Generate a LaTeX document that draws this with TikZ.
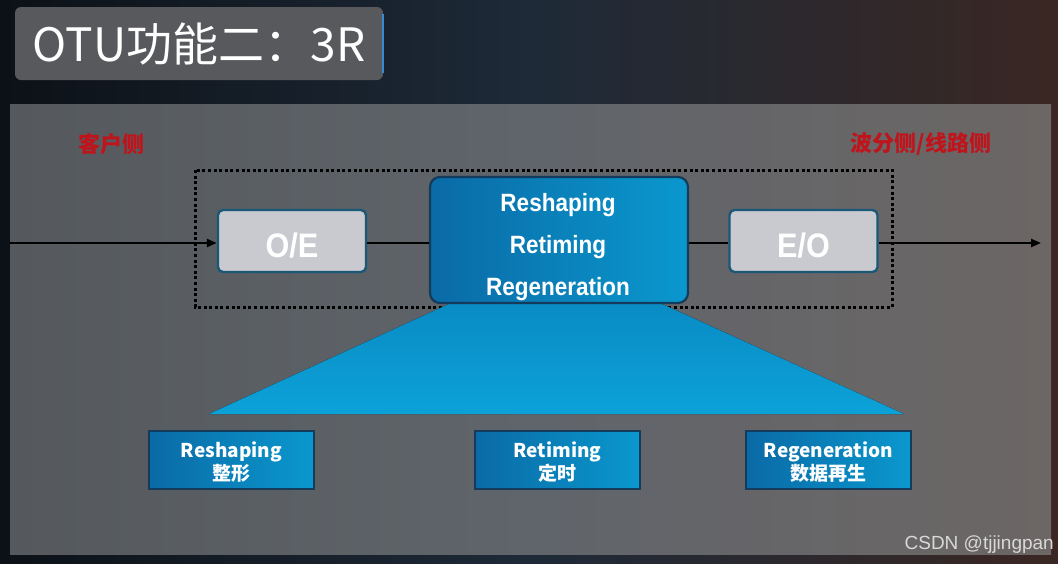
\documentclass[tikz,border=0pt]{standalone}
\usepackage{fontspec}
\usetikzlibrary{arrows.meta}
\newfontfamily\cjkf{Noto Sans CJK SC}
\newfontfamily\narrowf{Liberation Sans}[FakeStretch=0.9]
\newfontfamily\wmf{Liberation Sans}
\definecolor{bgL}{HTML}{0C1117}
\definecolor{bgM}{HTML}{1E2A38}
\definecolor{bgR}{HTML}{3A2723}
\definecolor{pnL}{HTML}{55595D}
\definecolor{pnM}{HTML}{60656B}
\definecolor{pnR}{HTML}{6C6665}
\definecolor{titlefill}{HTML}{58595C}
\definecolor{glow}{HTML}{3A8AD0}
\definecolor{redtxt}{HTML}{C0141C}
\definecolor{greyfill}{HTML}{C8CAD0}
\definecolor{greyborder}{HTML}{1B5878}
\definecolor{blueA}{HTML}{0A6AA6}
\definecolor{blueB}{HTML}{0A98CE}
\definecolor{trapTop}{HTML}{0A8BC4}
\definecolor{trapBot}{HTML}{0BA2D8}
\definecolor{navy}{HTML}{143A5C}
\definecolor{wmcol}{HTML}{D8D8D8}
\tikzset{
  titlebox/.style={fill=titlefill, rounded corners=6pt, minimum width=368pt, minimum height=73pt,
    text=white, font=\cjkf\fontsize{46}{46}\selectfont, inner sep=0pt},
  redlab/.style={text=redtxt, font=\cjkf\bfseries\fontsize{22}{22}\selectfont, inner sep=0pt},
  dotbox/.style={draw=black, line width=3pt, dash pattern=on 3pt off 2.6pt},
  greybox/.style={fill=greyfill, draw=greyborder, line width=2.4pt, rounded corners=5pt,
    minimum width=148pt, minimum height=62pt, text=white, text height=32pt, text depth=0pt,
    font=\narrowf\bfseries\fontsize{34}{34}\selectfont, inner sep=0pt},
  corebox/.style={left color=blueA, right color=blueB, draw=navy, line width=2.2pt,
    rounded corners=10pt, minimum width=258pt, minimum height=126pt, inner sep=0pt},
  coretext/.style={text=white, align=center, font=\narrowf\bfseries\fontsize{25}{42}\selectfont, inner sep=0pt},
  subbox/.style={left color=blueA, right color=blueB, draw=navy, line width=2.5pt,
    minimum width=165pt, minimum height=58pt, inner sep=0pt},
  subtext/.style={text=white, align=center, font=\cjkf\bfseries\fontsize{19}{23}\selectfont, inner sep=0pt},
  flow/.style={draw=black, line width=2.4pt},
  tip/.style={-{Triangle[length=10pt,width=8pt]}},
  wm/.style={text=wmcol, font=\wmf\fontsize{19}{19}\selectfont, inner sep=0pt}
}
\begin{document}
\begin{tikzpicture}[x=1pt,y=-1pt]
\useasboundingbox (0,0) rectangle (1058,563);
% background and panel
\fill[left color=bgL, right color=bgR, middle color=bgM] (0,0) rectangle (1058,563);
\fill[left color=pnL, right color=pnR, middle color=pnM] (10,104) rectangle (1051,554);
% title
\node[titlebox] (title) at (199,43.5) {OTU功能二：3R};
\draw[glow, line width=1.5pt] ([yshift=-7pt]title.north east) -- ([yshift=7pt]title.south east);
% side labels
\node[redlab] (client) at (111,144) {客户侧};
\node[redlab] (linesd) at (921,144) {波分侧/线路侧};
% dotted frame
\draw[dotbox] (195,170) rectangle (892,307);
% trapezoid
\fill[top color=trapTop, bottom color=trapBot] (451,303) -- (660,303) -- (904,414) -- (209,414) -- cycle;
% main boxes
\node[greybox] (oe) at (292,241) {O/E};
\node[greybox] (eo) at (803.5,241) {E/O};
\node[corebox] (core) at (559,240) {};
\node[coretext] (coretxt) at (558,247) {Reshaping\\Retiming\\Regeneration};
% flow line
\coordinate (in) at (10,243);
\coordinate (out) at (1041,243);
\draw[flow, tip] (in) -- (in -| oe.west);
\draw[flow] (oe.east |- in) -- (core.west |- in);
\draw[flow] (core.east |- in) -- (eo.west |- in);
\draw[flow, tip] (eo.east |- in) -- (out);
% sub boxes
\node[subbox] (rs) at (231.5,460) {};
\node[subbox] (rt) at (557.5,460) {};
\node[subbox] (rg) at (828.5,460) {};
\node[subtext] (rstxt) at (231.5,462) {Reshaping\\整形};
\node[subtext] (rttxt) at (557.5,462) {Retiming\\定时};
\node[subtext] (rgtxt) at (828.5,462) {Regeneration\\数据再生};
% watermark
\node[wm, anchor=east] (mark) at (1054,545) {CSDN @tjjingpan};
\end{tikzpicture}
\end{document}
